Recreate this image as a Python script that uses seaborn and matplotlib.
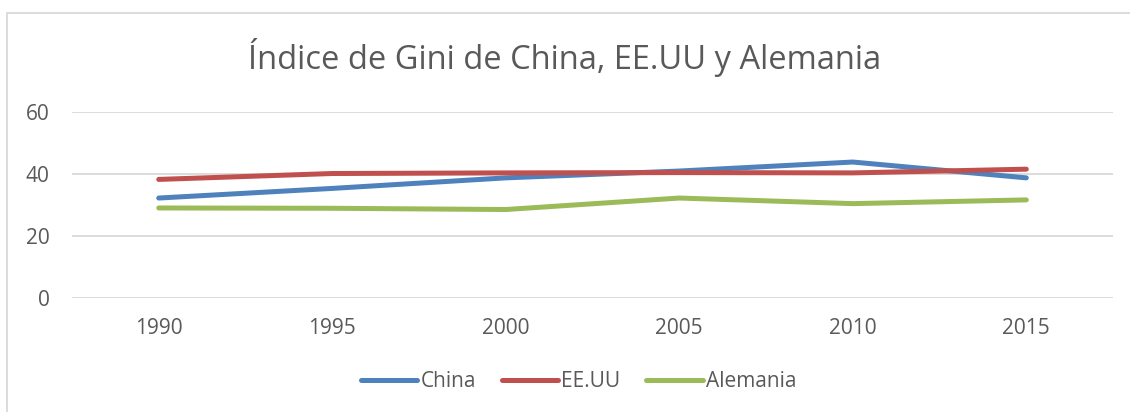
import seaborn as sns
import pandas as pd
import matplotlib.pyplot as plt
from matplotlib.patches import Rectangle

# data
years = [1990, 1995, 2000, 2005, 2010, 2015]
china = [32.3, 35.4, 38.8, 41.0, 43.9, 38.8]
eeuu = [38.3, 40.2, 40.4, 40.5, 40.4, 41.6]
alemania = [29.1, 29.0, 28.6, 32.3, 30.5, 31.7]
series_names = ['China', 'EE.UU', 'Alemania']
yticks = [0, 20, 40, 60]

df = pd.DataFrame({
    'year': years * 3,
    'gini': china + eeuu + alemania,
    'pais': [n for n in series_names for _ in years],
})

sns.set_style('white')
plt.rcParams['font.family'] = ['Open Sans', 'DejaVu Sans']

text_col = '#595959'
palette = {'China': '#4F81BD', 'EE.UU': '#C0504D', 'Alemania': '#9BBB59'}

fig = plt.figure(figsize=(11.3, 4.12), dpi=100)
ax = fig.add_axes([0.0637, 0.276, 0.9213, 0.452])

sns.lineplot(data=df, x='year', y='gini', hue='pais', palette=palette,
             linewidth=3.6, ax=ax, legend=False, solid_capstyle='round')

ax.set_xlim(1987.5, 2017.5)
ax.set_ylim(0, 60)
ax.set_xticks(years)
ax.set_yticks(yticks)
ax.set_xlabel('')
ax.set_ylabel('')
ax.grid(axis='y', color='#D9D9D9', linewidth=1.3)
ax.set_axisbelow(True)
for s in ax.spines.values():
    s.set_visible(False)
ax.tick_params(axis='both', length=0, labelsize=15, labelcolor=text_col)
ax.tick_params(axis='y', pad=16)
ax.tick_params(axis='x', pad=14)

fig.text(0.5, 0.86, 'Índice de Gini de China, EE.UU y Alemania',
         ha='center', va='center', fontsize=23.5, color=text_col)

handles = [plt.Line2D([], [], color=palette[n], linewidth=3.6, solid_capstyle='round')
           for n in series_names]
fig.legend(handles, series_names, loc='center', bbox_to_anchor=(0.512, 0.073),
           ncol=3, frameon=False, fontsize=15, labelcolor=text_col,
           handlelength=2.7, handletextpad=0.15, columnspacing=1.25)

# chart area border
fig.patches.append(Rectangle((0.0065, -0.05), 1.1, 1.018, transform=fig.transFigure,
                             fill=False, edgecolor='#D9D9D9', linewidth=1.3))

fig.savefig('out.png', dpi=100)
